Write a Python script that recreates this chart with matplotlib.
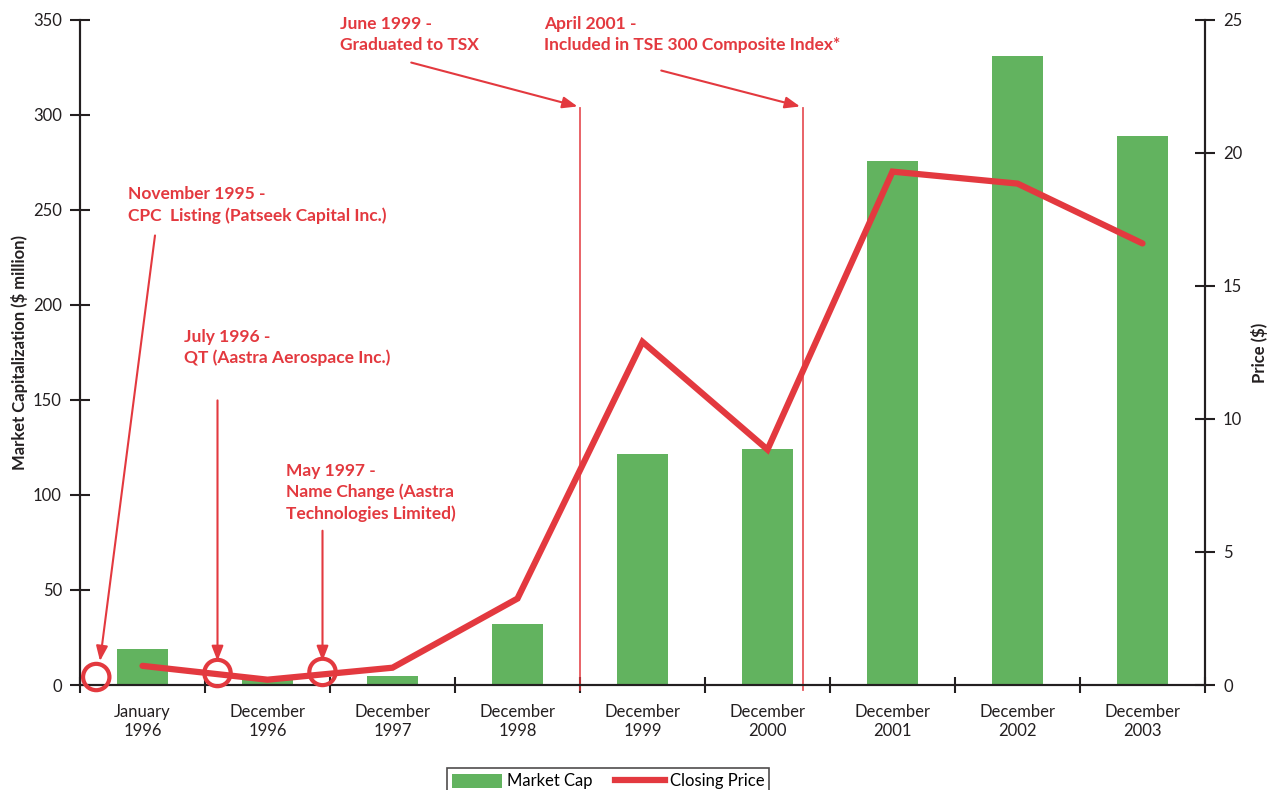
import matplotlib
matplotlib.use('agg')
import matplotlib.pyplot as plt
from matplotlib.patches import Patch
from matplotlib.lines import Line2D

# chart data
categories = ["January\n1996", "December\n1996", "December\n1997", "December\n1998",
              "December\n1999", "December\n2000", "December\n2001", "December\n2002",
              "December\n2003"]
market_cap = [19, 4, 5, 32, 121.5, 124, 276, 331, 289]
closing_price = [0.72, 0.2, 0.65, 3.25, 12.9, 8.85, 19.3, 18.85, 16.6]

# events marked with circles (x in category units, price level)
circle_events = ["November 1995 -\nCPC  Listing (Patseek Capital Inc.)",
                 "July 1996 -\nQT (Aastra Aerospace Inc.)",
                 "May 1997 -\nName Change (Aastra\nTechnologies Limited)"]
circle_x = [-0.37, 0.6, 1.44]
circle_y = [0.3, 0.45, 0.49]

# events marked with vertical lines
vline_events = ["June 1999 -\nGraduated to TSX",
                "April 2001 -\nIncluded in TSE 300 Composite Index*"]
vline_x = [3.5, 5.28]

GREEN = '#62b35f'
RED = '#e3393f'
DARK = '#231f20'

plt.rcParams['font.family'] = ['Lato', 'DejaVu Sans']

fig = plt.figure(figsize=(12.78, 7.9), dpi=100)
ax = fig.add_axes([80/1278, 1-685/790, 1125/1278, 665/790])
ax2 = ax.twinx()

x = list(range(len(categories)))
ax.bar(x, market_cap, width=0.41, color=GREEN, zorder=2)
ax.set_xlim(-0.5, 8.5)
ax.set_ylim(0, 350)
ax.set_yticks(range(0, 351, 50))
ax.set_xticks([i + 0.5 for i in range(-1, 9)], minor=False)
ax.set_xticklabels([])
ax.set_xticks(x, minor=True)
ax.set_xticklabels(categories, minor=True, fontsize=12, color=DARK)
ax.tick_params(axis='x', which='minor', length=0, pad=14)
ax.tick_params(axis='x', which='major', direction='inout', length=12, width=1.5, color=DARK)
ax.tick_params(axis='y', direction='inout', length=14, width=1.5, color=DARK,
               labelsize=12, labelcolor=DARK, pad=6)
ax.set_ylabel("Market Capitalization ($ million)", fontsize=12, fontweight='bold',
              color=DARK, labelpad=4)

ax2.set_ylim(0, 25)
ax2.set_yticks(range(0, 26, 5))
ax2.tick_params(axis='y', direction='inout', length=14, width=1.5, color=DARK,
                labelsize=12, labelcolor=DARK, pad=6)
ax2.set_ylabel("Price ($)", fontsize=12, fontweight='bold', color=DARK,
               rotation=90, labelpad=6)
ax2.plot(x, closing_price, color=RED, lw=4.5, solid_capstyle='round',
         solid_joinstyle='miter', zorder=3)

for a in (ax, ax2):
    a.spines['top'].set_visible(False)
    for s in ('left', 'right', 'bottom'):
        a.spines[s].set_linewidth(1.5)
        a.spines[s].set_color(DARK)

txt = dict(color=RED, fontsize=12.5, fontweight='bold', va='top', ha='left',
           linespacing=1.35)
arrow = dict(arrowstyle='-|>,head_length=0.9,head_width=0.35', color=RED, lw=1.5,
             shrinkA=0, shrinkB=0)

# circle events
ax2.scatter(circle_x, circle_y, s=360, facecolors='none', edgecolors=RED,
            linewidths=3, zorder=4, clip_on=False)
text_pos = [(-0.12, 18.75), (0.33, 13.4), (1.15, 8.35)]
arrow_from = [(0.1, 16.9), (0.6, 10.7), (1.44, 5.8)]
for i, label in enumerate(circle_events):
    ax2.text(text_pos[i][0], text_pos[i][1], label, **txt)
    ax2.annotate('', xy=(circle_x[i] + (0.03 if i == 0 else 0), 0.9),
                 xytext=arrow_from[i], arrowprops=arrow)

# vertical line events
vtext_pos = [(1.58, 25.15), (3.21, 25.15)]
varrow_from = [(2.15, 23.4), (4.15, 23.1)]
for i, label in enumerate(vline_events):
    ax2.plot([vline_x[i], vline_x[i]], [-0.2, 21.7], color=RED, lw=1.3,
             alpha=0.85, clip_on=False, zorder=1)
    ax2.text(vtext_pos[i][0], vtext_pos[i][1], label, **txt)
    ax2.annotate('', xy=(vline_x[i] - 0.02, 21.75), xytext=varrow_from[i],
                 arrowprops=arrow)

handles = [Patch(facecolor=GREEN, edgecolor='none'),
           Line2D([0], [0], color=RED, lw=4.5)]
leg = fig.legend(handles, ["Market Cap", "Closing Price"], loc='lower center',
                 bbox_to_anchor=(0.476, -0.012), ncol=2, fontsize=12,
                 frameon=True, fancybox=False, edgecolor=DARK, handlelength=3.0,
                 handleheight=0.9, columnspacing=1.3, handletextpad=0.3,
                 borderpad=0.3, borderaxespad=0.3)
leg.get_frame().set_linewidth(1.2)

fig.savefig('out.png', dpi=100)
